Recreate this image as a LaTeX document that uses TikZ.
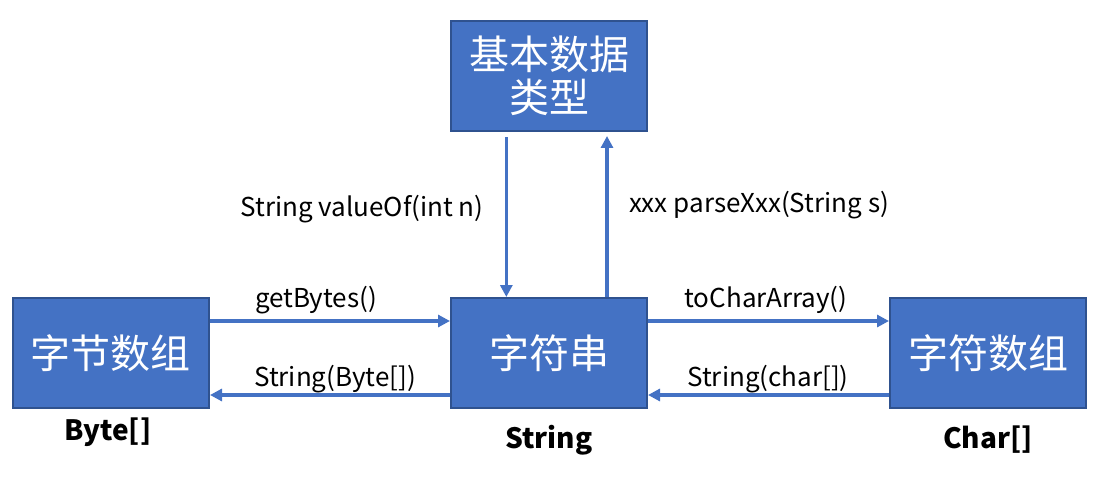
\documentclass[tikz,border=0pt]{standalone}
\usepackage{fontspec}
\setmainfont{Noto Sans CJK SC}
\usetikzlibrary{arrows.meta}

\definecolor{boxfill}{RGB}{68,114,196}
\definecolor{boxedge}{RGB}{47,82,143}

\tikzset{
  typebox/.style={draw=boxedge, line width=1.5pt, fill=boxfill, text=white,
    minimum width=147pt, minimum height=82.5pt, inner sep=0pt, align=center,
    font=\fontsize{30}{32}\selectfont},
  conv/.style={draw=boxfill, line width=2.5pt, -{Triangle[length=9pt,width=9pt]}},
  method/.style={font=\fontsize{19.5}{21}\selectfont, inner sep=0pt},
  typename/.style={font=\fontsize{21}{23}\selectfont\bfseries, inner sep=0pt},
}

\begin{document}
\begin{tikzpicture}[x=0.75pt,y=0.75pt,yscale=-1,xscale=1]
		\useasboundingbox (0,0) rectangle (1115,485);
		
		% Boxes
		\node [typebox] (prim) at (549,76) {基本数据\\类型};
		\node [typebox] (str) at (549,353) {字符串};
		\node [typebox] (bytes) at (111,353) {字节数组};
		\node [typebox] (chars) at (988,353) {字符数组};
		
		% Type names
		\node [typename] (bytesname) at (108,432) {Byte[]};
		\node [typename] (strname) at (549,440) {String};
		\node [typename] (charsname) at (988,440) {Char[]};
		
		% String <-> primitive types
		\draw [conv, shorten <=4pt] ([xshift=-32pt]prim.south) -- ([xshift=-32pt]str.north);
		\draw [conv, shorten >=3pt] ([xshift=43.5pt]str.north) -- ([xshift=43.5pt]prim.south);
		
		% String <-> byte array
		\draw [conv] ([yshift=-24pt]bytes.east) -- ([yshift=-24pt]str.west);
		\draw [conv] ([yshift=31.5pt]str.west) -- ([yshift=31.5pt]bytes.east);
		
		% String <-> char array
		\draw [conv] ([yshift=-24pt]str.east) -- ([yshift=-24pt]chars.west);
		\draw [conv] ([yshift=31.5pt]chars.west) -- ([yshift=31.5pt]str.east);
		
		% Text Node
		\draw (362,209) node [method] (valueof) {String valueOf(int n)};
		% Text Node
		\draw (759,205) node [method] (parse) {xxx parseXxx(String s)};
		% Text Node
		\draw (316,300) node [method] (getbytes) {getBytes()};
		% Text Node
		\draw (335,379) node [method] (newbytes) {String(Byte[])};
		% Text Node
		\draw (766,300) node [method] (tochars) {toCharArray()};
		% Text Node
		\draw (768,379) node [method] (newchars) {String(char[])};
		
\end{tikzpicture}
\end{document}
